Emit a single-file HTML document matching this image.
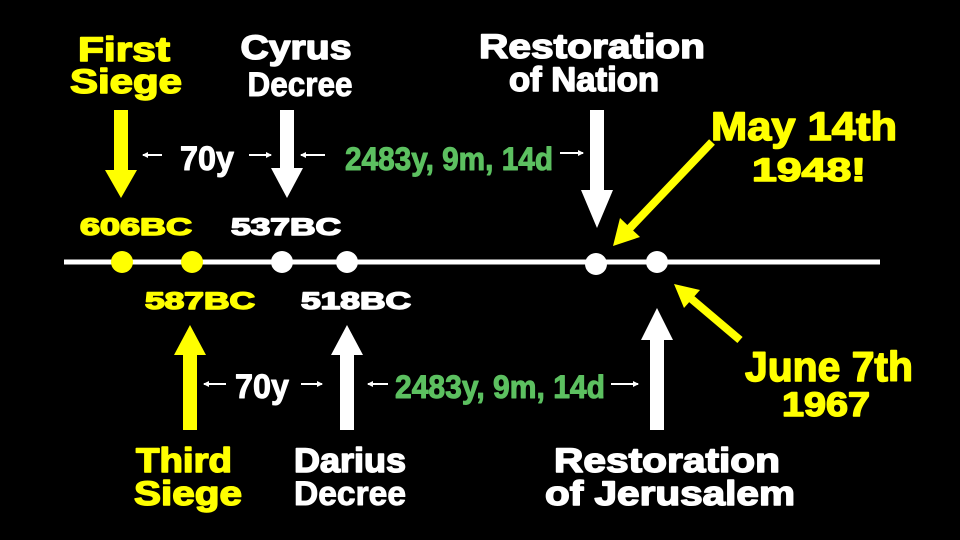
<!DOCTYPE html>
<html><head><style>
html,body{margin:0;padding:0;background:#000;}
svg{display:block;}
text{font-family:"Liberation Sans",Arial,sans-serif;font-weight:bold;text-anchor:middle;paint-order:stroke;stroke-linejoin:round;}
.y{fill:#ffff00;stroke:#ffff00;}
.w{fill:#fff;stroke:#fff;}
.g{fill:#5cc060;stroke:#5cc060;}
</style></head><body>
<svg width="960" height="540" viewBox="0 0 960 540">
<defs>
<marker id="ah" markerWidth="6" markerHeight="6" refX="5" refY="3" orient="auto" markerUnits="userSpaceOnUse"><path d="M0,0 L6,3 L0,6 z" fill="#fff"/></marker>
</defs>
<rect width="960" height="540" fill="#000"/>
<line x1="64" y1="262" x2="880" y2="262" stroke="#fff" stroke-width="5"/>
<circle cx="122" cy="262" r="11" fill="#ffff00"/>
<circle cx="192" cy="262" r="11" fill="#ffff00"/>
<circle cx="282" cy="262" r="11" fill="#fff"/>
<circle cx="347" cy="262" r="11" fill="#fff"/>
<circle cx="596" cy="264" r="11" fill="#fff"/>
<circle cx="657" cy="262" r="11" fill="#fff"/>
<polygon points="114,110 128,110 128,170 137,170 121,198 105,170 114,170" fill="#ffff00"/>
<polygon points="280,110 294,110 294,168 303,168 287,198 271,168 280,168" fill="#fff"/>
<polygon points="590,110 604,110 604,190 613,190 597,228 581,190 590,190" fill="#fff"/>
<polygon points="183,430 197,430 197,355 206,355 190,325 174,355 183,355" fill="#ffff00"/>
<polygon points="340,430 354,430 354,355 363,355 347,325 331,355 340,355" fill="#fff"/>
<polygon points="650,430 664,430 664,340 673,340 657,308 641,340 650,340" fill="#fff"/>
<line x1="712" y1="142" x2="630" y2="228" stroke="#ffff00" stroke-width="8"/>
<polygon points="613,246 620,218 640,237" fill="#ffff00"/>
<line x1="740" y1="340" x2="688" y2="296" stroke="#ffff00" stroke-width="8"/>
<polygon points="674,284 700,290 684,308" fill="#ffff00"/>
<!-- top labels -->
<text class="y" x="124" y="61" font-size="34" stroke-width="1.5" textLength="92" lengthAdjust="spacingAndGlyphs">First</text>
<text class="y" x="126" y="93" font-size="34" stroke-width="1.5" textLength="112" lengthAdjust="spacingAndGlyphs">Siege</text>
<text class="w" x="296" y="59" font-size="34" stroke-width="1.5" textLength="111" lengthAdjust="spacingAndGlyphs">Cyrus</text>
<text class="w" x="300" y="96" font-size="34" stroke-width="1" textLength="105" lengthAdjust="spacingAndGlyphs">Decree</text>
<text class="w" x="592" y="58" font-size="34" stroke-width="1.5" textLength="226" lengthAdjust="spacingAndGlyphs">Restoration</text>
<text class="w" x="584" y="91" font-size="34" stroke-width="1.5" textLength="150" lengthAdjust="spacingAndGlyphs">of Nation</text>
<text class="y" x="804" y="140" font-size="40" stroke-width="1.5" textLength="186" lengthAdjust="spacingAndGlyphs">May 14th</text>
<text class="y" x="809" y="181" font-size="32" stroke-width="1.5" textLength="114" lengthAdjust="spacingAndGlyphs">1948!</text>
<!-- middle -->
<g stroke="#fff" stroke-width="2" marker-end="url(#ah)">
<line x1="162" y1="155" x2="143" y2="155"/>
<line x1="249" y1="155" x2="271" y2="155"/>
<line x1="325" y1="155" x2="301" y2="155"/>
<line x1="560" y1="153" x2="583" y2="153"/>
<line x1="226" y1="384" x2="204" y2="384"/>
<line x1="301" y1="384" x2="322" y2="384"/>
<line x1="388" y1="384" x2="368" y2="384"/>
<line x1="611" y1="384" x2="638" y2="384"/>
</g>
<text class="w" x="207" y="170" font-size="34" stroke-width="1" textLength="54" lengthAdjust="spacingAndGlyphs">70y</text>
<text class="g" x="449" y="170" font-size="32" stroke-width="1" textLength="208" lengthAdjust="spacingAndGlyphs">2483y, 9m, 14d</text>
<text class="y" x="136" y="235" font-size="24" stroke-width="1.5" textLength="112" lengthAdjust="spacingAndGlyphs">606BC</text>
<text class="w" x="286" y="235" font-size="24" stroke-width="1.5" textLength="110" lengthAdjust="spacingAndGlyphs">537BC</text>
<text class="y" x="200" y="309" font-size="24" stroke-width="1.5" textLength="110" lengthAdjust="spacingAndGlyphs">587BC</text>
<text class="w" x="356" y="309" font-size="24" stroke-width="1.5" textLength="110" lengthAdjust="spacingAndGlyphs">518BC</text>
<text class="w" x="262" y="398" font-size="34" stroke-width="1" textLength="54" lengthAdjust="spacingAndGlyphs">70y</text>
<text class="g" x="500" y="398" font-size="32" stroke-width="1" textLength="210" lengthAdjust="spacingAndGlyphs">2483y, 9m, 14d</text>
<text class="y" x="829" y="381" font-size="42" stroke-width="1.5" textLength="168" lengthAdjust="spacingAndGlyphs">June 7th</text>
<text class="y" x="826" y="416" font-size="34" stroke-width="1.5" textLength="88" lengthAdjust="spacingAndGlyphs">1967</text>
<!-- bottom -->
<text class="y" x="184" y="472" font-size="34" stroke-width="1.5" textLength="96" lengthAdjust="spacingAndGlyphs">Third</text>
<text class="y" x="188" y="505" font-size="34" stroke-width="1.5" textLength="108" lengthAdjust="spacingAndGlyphs">Siege</text>
<text class="w" x="350" y="472" font-size="34" stroke-width="1.5" textLength="112" lengthAdjust="spacingAndGlyphs">Darius</text>
<text class="w" x="350" y="505" font-size="34" stroke-width="1" textLength="112" lengthAdjust="spacingAndGlyphs">Decree</text>
<text class="w" x="667" y="472" font-size="34" stroke-width="1.5" textLength="226" lengthAdjust="spacingAndGlyphs">Restoration</text>
<text class="w" x="670" y="505" font-size="34" stroke-width="1.5" textLength="250" lengthAdjust="spacingAndGlyphs">of Jerusalem</text>
</svg>
</body></html>
